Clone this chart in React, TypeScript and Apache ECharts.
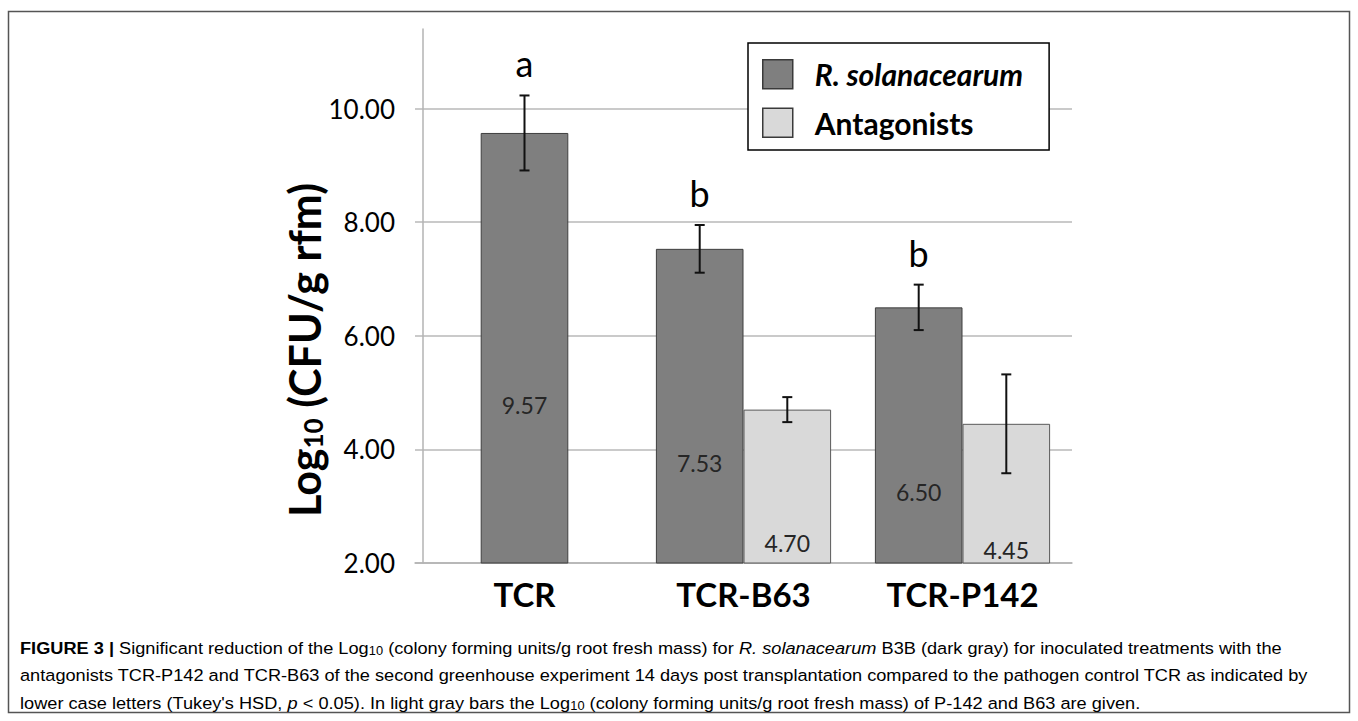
import React, { useEffect, useRef } from 'react';
import * as echarts from 'echarts';

const categories = ['TCR', 'TCR-B63', 'TCR-P142'];
const pathogen = [9.57, 7.53, 6.5];
const pathogenErr = [0.66, 0.42, 0.4];
const antagonists: (number | null)[] = [null, 4.7, 4.45];
const antagonistErr: (number | null)[] = [null, 0.22, 0.87];
const letters = ['a', 'b', 'b'];
const yTicks = [2, 4, 6, 8, 10];
const seriesNames = ['R. solanacearum', 'Antagonists'];
const yTitle = '{a|Log}{s|10}{a| (CFU/g rfm)}';
const captionLines = [
  '{b|FIGURE 3 | }{n|Significant reduction of the Log}{s|10}{n| (colony forming units/g root fresh mass) for }{i|R. solanacearum}{n| B3B (dark gray) for inoculated treatments with the}',
  '{n|antagonists TCR-P142 and TCR-B63 of the second greenhouse experiment 14 days post transplantation compared to the pathogen control TCR as indicated by}',
  "{n|lower case letters (Tukey's HSD, }{i|p}{n| < 0.05). In light gray bars the Log}{s|10}{n| (colony forming units/g root fresh mass) of P-142 and B63 are given.}",
];

const DARK = '#7f7f7f';
const LIGHT = '#d9d9d9';
const FONT = 'Lato, "Open Sans", sans-serif';
const CAPFONT = '"Liberation Sans", Arial, sans-serif';

export default function App() {
  const ref = useRef<HTMLDivElement>(null);
  useEffect(() => {
    const chart = echarts.init(ref.current!, null, { renderer: 'svg' });

    const errData: number[][] = [];
    categories.forEach((_c, i) => {
      const solo = antagonists[i] == null;
      errData.push([i, pathogen[i], pathogenErr[i], solo ? 0 : -1, 0]);
      if (!solo) errData.push([i, antagonists[i] as number, antagonistErr[i] as number, 1, 1]);
    });

    const capRich = {
      n: { fontFamily: CAPFONT, fontSize: 17, color: '#2b2b2b' },
      b: { fontFamily: CAPFONT, fontSize: 17, fontWeight: 'bold', color: '#2b2b2b' },
      i: { fontFamily: CAPFONT, fontSize: 17, fontStyle: 'italic', color: '#2b2b2b' },
      s: { fontFamily: CAPFONT, fontSize: 12, color: '#2b2b2b', verticalAlign: 'bottom', padding: [6, 0, 0, 0] },
    };

    const option: any = {
      animation: false,
      backgroundColor: '#fff',
      grid: { left: 415, right: 286, top: 29, bottom: 158, containLabel: false },
      legend: {
        orient: 'vertical',
        left: 748,
        top: 43,
        data: seriesNames,
        itemWidth: 30,
        itemHeight: 29,
        itemGap: 18,
        padding: [16, 26, 12, 14],
        borderColor: '#000',
        borderWidth: 1.5,
        backgroundColor: '#fff',
        icon: 'rect',
        selectedMode: false,
        itemStyle: { borderColor: '#3a3a3a', borderWidth: 1.5 },
        formatter: (n: string) => (n === seriesNames[0] ? `{it|${n}}` : `{bd|${n}}`),
        textStyle: {
          fontFamily: FONT,
          fontSize: 30,
          color: '#000',
          rich: {
            it: { fontFamily: FONT, fontSize: 30, lineHeight: 29, fontStyle: 'italic', fontWeight: 'bold', color: '#000', padding: [0, 0, 0, 17] },
            bd: { fontFamily: FONT, fontSize: 30, lineHeight: 29, fontWeight: 'bold', color: '#000', padding: [0, 0, 0, 17] },
          },
        },
      },
      xAxis: [
        {
          type: 'category',
          data: categories,
          axisLine: { lineStyle: { color: '#b3b3b3', width: 1.5 } },
          axisTick: { show: false },
          axisLabel: { fontFamily: FONT, fontSize: 33, fontWeight: 'bold', color: '#000', margin: 14 },
        },
        { type: 'category', data: categories, show: false, gridIndex: 0 },
      ],
      yAxis: {
        type: 'value',
        min: 2,
        max: 11.4,
        interval: 2,
        offset: -8,
        axisLine: { show: true, lineStyle: { color: '#b3b3b3', width: 1.5 } },
        axisTick: { show: false },
        splitLine: { show: true, showMaxLine: false, lineStyle: { color: '#b8b8b8', width: 1.5 } },
        axisLabel: {
          showMaxLabel: false,
          fontFamily: FONT,
          fontSize: 26,
          color: '#000',
          margin: 28,
          formatter: (v: number) => (yTicks.includes(v) ? v.toFixed(2) : ''),
        },
      },
      series: [
        {
          name: seriesNames[0],
          type: 'bar',
          xAxisIndex: 0,
          barWidth: '40%',
          barGap: '0%',
          data: pathogen.map((v, i) => (antagonists[i] == null ? '-' : v)),
          itemStyle: { color: DARK, borderColor: '#3f3f3f', borderWidth: 1 },
        },
        {
          name: seriesNames[1],
          type: 'bar',
          xAxisIndex: 0,
          barWidth: '40%',
          barGap: '0%',
          data: antagonists.map((v) => (v == null ? '-' : v)),
          itemStyle: { color: LIGHT, borderColor: '#5a5a5a', borderWidth: 1 },
        },
        {
          name: seriesNames[0],
          type: 'bar',
          xAxisIndex: 1,
          barWidth: '40%',
          data: pathogen.map((v, i) => (antagonists[i] == null ? v : '-')),
          itemStyle: { color: DARK, borderColor: '#3f3f3f', borderWidth: 1 },
        },
        {
          name: 'errors',
          type: 'custom',
          xAxisIndex: 0,
          yAxisIndex: 0,
          z: 10,
          data: errData,
          renderItem: (_p: any, api: any) => {
            const cat = api.value(0);
            const v = api.value(1);
            const e = api.value(2);
            const slot = api.value(3);
            const s = api.value(4);
            const cw = api.size([1, 0])[0];
            const x = api.coord([cat, v])[0] + slot * 0.2 * cw;
            const yTop = api.coord([cat, v + e])[1];
            const yBot = api.coord([cat, v - e])[1];
            const yLab = api.coord([cat, v / 2])[1];
            const ls = { stroke: '#111', lineWidth: 2 };
            const children: any[] = [
              { type: 'line', shape: { x1: x, y1: yTop, x2: x, y2: yBot }, style: ls },
              { type: 'line', shape: { x1: x - 5, y1: yTop, x2: x + 5, y2: yTop }, style: ls },
              { type: 'line', shape: { x1: x - 5, y1: yBot, x2: x + 5, y2: yBot }, style: ls },
              {
                type: 'text',
                x,
                y: yLab,
                style: { text: v.toFixed(2), fill: '#262626', fontFamily: FONT, fontSize: 23, align: 'center', verticalAlign: 'middle' },
              },
            ];
            if (s === 0) {
              children.push({
                type: 'text',
                x,
                y: yTop - 32,
                style: { text: letters[cat], fill: '#000', fontFamily: FONT, fontSize: 36, align: 'center', verticalAlign: 'middle' },
              });
            }
            return { type: 'group', children };
          },
        },
      ],
      graphic: [
        {
          type: 'rect',
          shape: { x: 8.5, y: 11.5, width: 1341, height: 701 },
          style: { fill: 'none', stroke: '#555', lineWidth: 1.5 },
          silent: true,
        },
        {
          type: 'text',
          x: 304,
          y: 350,
          rotation: Math.PI / 2,
          style: {
            text: yTitle,
            align: 'center',
            verticalAlign: 'middle',
            rich: {
              a: { fontFamily: FONT, fontSize: 43, fontWeight: 'bold', color: '#000' },
              s: { fontFamily: FONT, fontSize: 26, fontWeight: 'bold', color: '#000', verticalAlign: 'bottom', padding: [9, 0, 0, 0] },
            },
          },
        },
        ...captionLines.map((t, k) => ({
          type: 'text',
          x: 20,
          y: 648 + k * 27.5,
          scaleX: 1.07,
          style: { text: t, align: 'left', verticalAlign: 'middle', rich: capRich },
        })),
      ],
    };
    chart.setOption(option);
    return () => chart.dispose();
  }, []);
  return <div ref={ref} style={{ position: 'fixed', left: 0, top: 0, width: 1358, height: 721 }} />;
}
